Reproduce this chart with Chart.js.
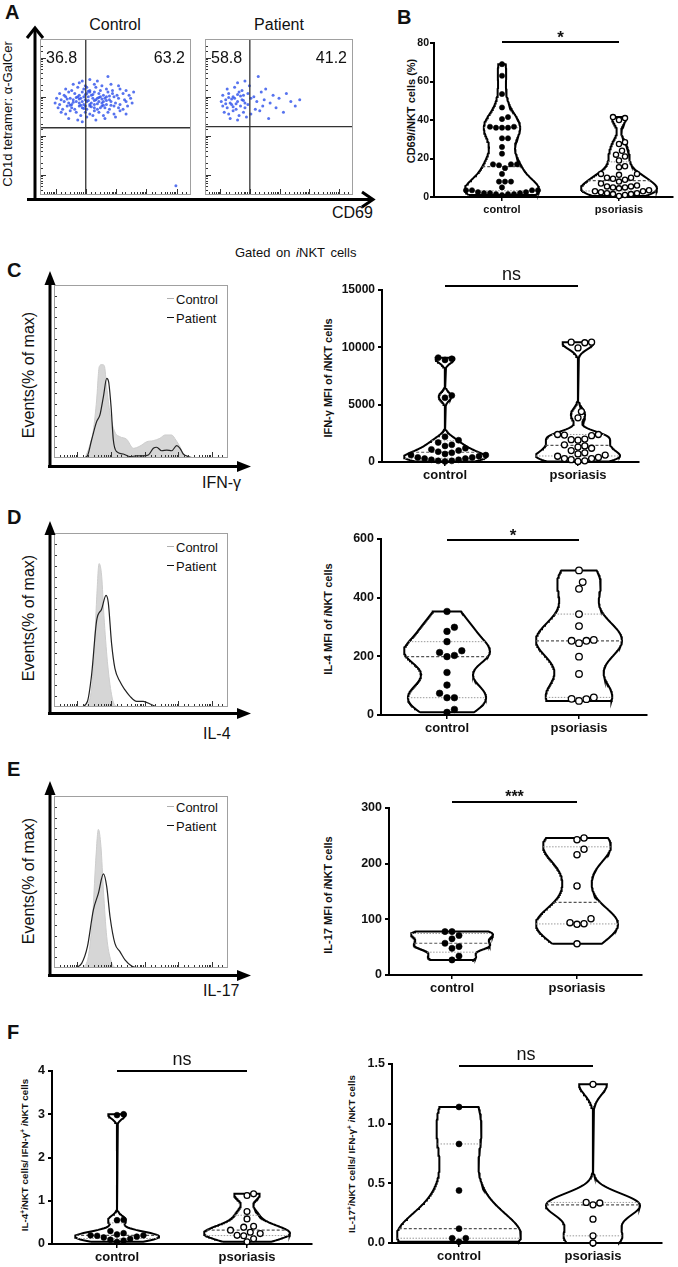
<!DOCTYPE html>
<html><head><meta charset="utf-8">
<script src="https://cdn.jsdelivr.net/npm/chart.js@4.4.1/dist/chart.umd.min.js"></script>
<style>
html,body{margin:0;padding:0;background:#fff;}
#fig{position:relative;width:678px;height:1267px;overflow:hidden;background:#fff;font-family:"Liberation Sans",Arial,Helvetica,sans-serif;color:#111;}
#fig canvas{position:absolute;}
.t{position:absolute;white-space:nowrap;line-height:1;}
.lt{font-weight:bold;font-size:20px;}
.r{transform:translate(-50%,-50%) rotate(-90deg);}
.c{transform:translateX(-50%);}
.vt{font-weight:bold;font-size:11px;}
.dash{position:absolute;width:7px;height:0;}
sup{font-size:65%;vertical-align:0.45em;line-height:0;}
svg{position:absolute;left:0;top:0;}
</style></head>
<body><div id="fig">
<div class="t lt" style="left:5px;top:2px">A</div>
<div class="t lt" style="left:397px;top:7px">B</div>
<div class="t lt" style="left:7px;top:260px">C</div>
<div class="t lt" style="left:7px;top:507px">D</div>
<div class="t lt" style="left:7px;top:759px">E</div>
<div class="t lt" style="left:7px;top:1022px">F</div>

<div class="t c" style="left:115px;top:17px;font-size:16px">Control</div>
<div class="t c" style="left:279px;top:17px;font-size:16px">Patient</div>
<div class="t r" style="left:7px;top:114px;font-size:13px">CD1d tetramer: α-GalCer</div>
<div class="t" style="left:332px;top:205px;font-size:16px">CD69</div>
<div class="t" style="left:235px;top:246px;font-size:13px;word-spacing:2px">Gated on <i>i</i>NKT cells</div>

<div class="t r" style="left:29px;top:375px;font-size:16px">Events(% of max)</div>
<div class="t" style="left:202px;top:475px;font-size:16px">IFN-γ</div>
<div class="dash" style="left:167px;top:298px;border-top:1.6px solid #b0b0b0"></div>
<div class="t" style="left:176px;top:292.5px;font-size:13px">Control</div>
<div class="dash" style="left:167px;top:317px;border-top:1.6px solid #111"></div>
<div class="t" style="left:176px;top:311.5px;font-size:13px">Patient</div>

<div class="t r" style="left:29px;top:618px;font-size:16px">Events(% of max)</div>
<div class="t" style="left:203px;top:726px;font-size:16px">IL-4</div>
<div class="dash" style="left:167px;top:546px;border-top:1.6px solid #b0b0b0"></div>
<div class="t" style="left:176px;top:540.5px;font-size:13px">Control</div>
<div class="dash" style="left:167px;top:565px;border-top:1.6px solid #111"></div>
<div class="t" style="left:176px;top:559.5px;font-size:13px">Patient</div>

<div class="t r" style="left:29px;top:881px;font-size:16px">Events(% of max)</div>
<div class="t" style="left:203px;top:983px;font-size:16px">IL-17</div>
<div class="dash" style="left:167px;top:806px;border-top:1.6px solid #b0b0b0"></div>
<div class="t" style="left:176px;top:800.5px;font-size:13px">Control</div>
<div class="dash" style="left:167px;top:825px;border-top:1.6px solid #111"></div>
<div class="t" style="left:176px;top:819.5px;font-size:13px">Patient</div>

<div class="t r vt" style="left:411px;top:111px">CD69/<i>i</i>NKT cells (%)</div>
<div class="t r vt" style="left:328px;top:378px">IFN-γ MFI of <i>i</i>NKT cells</div>
<div class="t r vt" style="left:328px;top:619px">IL-4 MFI of <i>i</i>NKT cells</div>
<div class="t r vt" style="left:328px;top:895px">IL-17 MFI of <i>i</i>NKT cells</div>
<div class="t r vt" style="left:25px;top:1155px;font-size:9.8px">IL-4<sup>+</sup><i>i</i>NKT cells/ IFN-γ<sup>+</sup> <i>i</i>NKT cells</div>
<div class="t r vt" style="left:352px;top:1154px;font-size:9.8px">IL-17<sup>+</sup><i>i</i>NKT cells/ IFN-γ<sup>+</sup> <i>i</i>NKT cells</div>

<svg width="678" height="1267" viewBox="0 0 678 1267">
 <g stroke="#000" fill="none" stroke-width="3">
  <line x1="35" y1="201" x2="35" y2="29"/>
  <polyline points="27,38 35,28 43,38"/>
  <line x1="27" y1="199.5" x2="372" y2="199.5"/>
  <polyline points="362,192 373,199.5 362,207"/>
  <line x1="50" y1="468" x2="50" y2="282"/>
  <line x1="48" y1="466.5" x2="240" y2="466.5"/>
  <line x1="50" y1="715" x2="50" y2="532"/>
  <line x1="48" y1="713.5" x2="240" y2="713.5"/>
  <line x1="50" y1="977" x2="50" y2="792"/>
  <line x1="48" y1="975.5" x2="240" y2="975.5"/>
 </g>
 <g fill="#000">
  <polygon points="50,271 44.5,285 55.5,285"/>
  <polygon points="251,466.5 237,461 237,472"/>
  <polygon points="50,521 44.5,535 55.5,535"/>
  <polygon points="251,713.5 237,708 237,719"/>
  <polygon points="50,781 44.5,795 55.5,795"/>
  <polygon points="251,975.5 237,970 237,981"/>
 </g>
</svg>
</div>
<script>
// ================= DATA =================
const groupLabels = ['control', 'psoriasis'];

// Panel A: flow dot plots (events in % of plot width / height)
const aControlQuad = ['36.8', '63.2'];
const aPatientQuad = ['58.8', '41.2'];
const aControlGate = [30.3, 43.1];
const aPatientGate = [30.3, 43.8];
const aControlEvents = [
 [33,74],[45,76],[38,73],[28,73],
 [22,71],[30,70],[36,71],[41,70],[47,71],[26,72],[52,70],
 [17,68],[21,67],[25,69],[29,68],[33,67],[37,69],[40,67],[44,68],[48,67],[53,68],[57,67],[31,69],
 [13,65],[16,64],[19,66],[23,65],[26,64],[28,66],[31,65],[34,64],[36,66],[39,65],[42,64],[45,66],[48,65],[51,64],[55,65],[59,64],[62,66],[33,66],
 [11,62],[14,61],[17,63],[20,62],[22,61],[25,63],[27,62],[30,61],[32,63],[35,62],[37,61],[40,63],[43,62],[46,61],[49,63],[52,62],[56,61],[60,62],[29,63],[38,62],[44,63],
 [10,59],[13,58],[16,60],[19,59],[21,58],[24,60],[26,59],[29,58],[31,60],[34,59],[36,58],[39,60],[41,59],[44,58],[47,60],[50,59],[53,58],[57,60],[61,59],[28,60],[33,58],[42,60],
 [12,56],[15,55],[18,57],[21,56],[23,55],[26,57],[28,56],[31,55],[33,57],[36,56],[38,55],[41,57],[43,56],[46,55],[49,57],[52,56],[55,55],[58,57],[30,57],[40,56],
 [14,53],[17,52],[20,54],[24,53],[27,51],[30,53],[33,52],[36,54],[39,53],[42,51],[45,53],[49,52],[53,54],[57,52],[35,51],
 [19,49],[25,48],[31,50],[37,48],[43,49],[50,50],[28,47],
 [24,62.5],[27,57.5],[32,60.5],[35,64.5],[38,58.5],[41,61.5],[44,60.5],[46,63.5],[30,64.5],[22,59.5],[18,61.5],[34,56.5],[39,62.5],[42,57.5],[26,61.5],[36,60.5],[29,55.5],[32,66.5],[47,57.5],[20,57.5],
 [90,6]
];
const aPatientEvents = [
 [36,76],[22,72],[27,73],
 [15,68],[20,69],[25,67],[30,70],[41,68],
 [12,64],[16,65],[19,63],[23,66],[26,64],[29,65],[33,63],[38,66],[46,64],[55,65],
 [11,60],[14,61],[17,59],[20,62],[22,60],[25,61],[27,59],[31,62],[35,60],[40,61],[44,59],[50,62],[58,60],[64,61],
 [12,57],[15,56],[18,58],[21,55],[24,57],[27,56],[29,58],[34,55],[39,57],[48,56],[61,57],
 [13,53],[16,52],[19,54],[23,51],[26,53],[31,52],[37,54],[53,53],
 [17,49],[22,48],[28,50],[43,49],
 [18,61.5],[21,58.5],[24,63.5],[14,58.5],[19,56.5],[26,60.5],[16,62.5],[22,64.5]
];

// Panel B: CD69 / iNKT (%)
const bTicks = [0, 20, 40, 60, 80];
const bControl = [69,63,53.5,46.5,41.5,40.5,36.5,36.5,36,36,36,30.5,30.5,26,22.5,17,17,17,16.5,15,12,8,8,8,5,3.5,3.5,3.5,3.5,2.5,2,2,1.5,1.5,1.5,2.5,2,1];
const bPsoriasis = [41.5,41,40,28.5,27.5,24,22,21,19,16,15.5,12,12,11.5,10,10,9.5,9,8,7,6,5.5,5.5,5,5,4.5,3.5,3,3,2.5,2,2,1.5,1.5,1,0.5];
const bSig = '*';

// Panel C: IFN-γ
const cHistControl = [[17.8,0],[20.3,6.5],[22.6,16],[24.5,33.5],[26,52.8],[27.5,54],[28.9,53.4],[30.3,41],[32.2,25.8],[35,15],[37.9,12.3],[41.8,10.8],[45.6,5.6],[49.4,6.9],[53.3,9.4],[57,10],[60.9,11.4],[63.8,13.3],[67.6,13.3],[70,10.4],[72.4,6.5],[74.7,1.2],[76,0]];
const cHistPatient = [[16.9,0],[19.2,1.2],[21.6,10.4],[24.5,21],[26.4,24.9],[28.4,35.5],[30.3,46],[31.4,44],[32.8,29.7],[34.1,10.4],[36,3.7],[39.8,2.3],[43.7,0.8],[47.5,1.2],[51.3,1.2],[54.2,1.7],[57.1,5.6],[59,6.2],[61.9,4.2],[64.8,4.6],[67.6,4.2],[70.5,7.1],[72.4,5.6],[74.3,2.3],[77.2,0.8],[80,0]];
const cTicks = [0, 5000, 10000, 15000];
const cControl = [9100,9000,8900,5800,5600,2200,1900,1700,1500,1400,1200,1100,1000,900,800,700,600,600,500,400,400,300,300,200,200,100,100,50];
const cPsoriasis = [10450,10450,10400,9950,4400,3850,2400,2400,2350,2300,2000,1950,1900,1500,1400,1300,1200,1000,800,700,600,500,400,300,300,200,100,50];
const cSig = 'ns';

// Panel D: IL-4
const dHistControl = [[19.2,0],[21.6,10.8],[23.2,33.5],[24.5,62],[25.9,82.4],[27.4,75.2],[28.7,52.5],[30.7,26],[33.1,7],[35,1],[37.9,0]];
const dHistPatient = [[15.9,0],[19.2,3.2],[21.6,18.4],[24.5,49.6],[27.4,56.3],[29.9,64.2],[31.2,60],[33.1,36.4],[35,22.2],[37.9,14.6],[40.8,9.8],[43.7,6.1],[47.5,3.2],[51.3,3.2],[55.2,1.7],[59,0]];
const dTicks = [0, 200, 400, 600];
const dControl = [353,299,285,250,213,203,219,199,145,102,74,59,59,19,9];
const dPsoriasis = [493,453,430,344,303,256,253,253,245,199,140,60,55,54,48];
const dSig = '*';

// Panel E: IL-17
const eHistControl = [[16.9,0],[19.7,6.6],[22.2,29.8],[23.9,60.9],[25.5,80.6],[27,70.5],[28.4,45.3],[30.3,18.2],[32.6,4.7],[35,0.4],[37,0]];
const eHistPatient = [[12.1,0],[15.9,2.7],[19.2,12.4],[22.6,33.7],[25.5,43.4],[28.4,54.7],[30.3,47.3],[32.2,29.8],[35,14.3],[37.9,9.5],[40.8,4.7],[44.6,1.2],[49.4,0]];
const eTicks = [0, 100, 200, 300];
const eControl = [78,78,71,65,57,51,48,34,27];
const ePsoriasis = [246,243,226,216,160,101,94,92,91,56];
const eSig = '***';

// Panel F: ratios
const fLTicks = [0, 1, 2, 3, 4];
const fLControl = [3.0,2.98,0.56,0.55,0.3,0.25,0.22,0.2,0.2,0.19,0.17,0.15,0.12,0.1,0.08,0.05];
const fLPsoriasis = [1.16,1.12,0.75,0.58,0.41,0.39,0.32,0.27,0.24,0.2,0.19,0.12,0.05];
const fLSig = 'ns';
const fRTicks = [0, 0.5, 1.0, 1.5];
const fRControl = [1.14,0.83,0.44,0.12,0.04,0.04,0.01];
const fRPsoriasis = [1.33,0.34,0.335,0.32,0.2,0.06,0.0];
const fRSig = 'ns';

// ================= SETUP =================
const FONT = '"Liberation Sans", Arial, Helvetica, sans-serif';
const BW = 0.7; // violin smoothing factor (relative to Silverman's rule)
Chart.defaults.font.family = FONT;
Chart.defaults.animation = false;
Chart.defaults.responsive = false;
Chart.defaults.events = [];
Chart.defaults.plugins.legend.display = false;
Chart.defaults.plugins.tooltip.enabled = false;

const fig = document.getElementById('fig');
function makeCanvas(x, y, w, h) {
  const c = document.createElement('canvas');
  c.width = w; c.height = h;
  c.style.left = x + 'px'; c.style.top = y + 'px';
  c.style.width = w + 'px'; c.style.height = h + 'px';
  fig.insertBefore(c, fig.querySelector('svg'));
  return c;
}

// box + flow-style minor ticks
const boxPlugin = {
  id: 'box',
  afterDatasetsDraw(chart, args, opts) {
    const {ctx, chartArea: a} = chart;
    ctx.save();
    ctx.strokeStyle = '#a0a0a0'; ctx.lineWidth = 1;
    ctx.strokeRect(a.left + 0.5, a.top + 0.5, a.right - a.left - 1, a.bottom - a.top - 1);
    ctx.strokeStyle = '#333';
    const xs = chart.scales[opts.xs];
    if (xs) xs.ticks.forEach(t => {
      const px = Math.round(xs.getPixelForValue(t.value)) + 0.5;
      if (px < a.left + 3 || px > a.right - 3) return;
      const lg = Math.log10(t.value); const major = Math.abs(lg - Math.round(lg)) < 1e-6;
      ctx.beginPath(); ctx.moveTo(px, a.bottom - 1); ctx.lineTo(px, a.bottom - (major ? 6 : 3)); ctx.stroke();
    });
    const ys = chart.scales[opts.ys];
    if (ys) ys.ticks.forEach(t => {
      const py = Math.round(ys.getPixelForValue(t.value)) + 0.5;
      if (py < a.top + 3 || py > a.bottom - 3) return;
      let major = false;
      if (ys.type === 'logarithmic') { const lg = Math.log10(t.value); major = Math.abs(lg - Math.round(lg)) < 1e-6; }
      ctx.beginPath(); ctx.moveTo(a.left + 1, py); ctx.lineTo(a.left + (major ? 6 : 3), py); ctx.stroke();
    });
    ctx.restore();
  }
};

function dotChart(area, events, gate, quad) {
  const P = 2; const [L, T, R, B] = area;
  const cv = makeCanvas(L - P, T - P, R - L + 2 * P, B - T + 2 * P);
  const quadPlugin = {
    id: 'quad',
    afterDraw(chart) {
      const {ctx, chartArea: a} = chart;
      ctx.save(); ctx.fillStyle = '#111'; ctx.font = '16px ' + FONT; ctx.textBaseline = 'alphabetic';
      ctx.textAlign = 'left'; ctx.fillText(quad[0], a.left + 6, a.top + 24);
      ctx.textAlign = 'right'; ctx.fillText(quad[1], a.right - 6, a.top + 24);
      ctx.restore();
    }
  };
  new Chart(cv, {
    type: 'scatter',
    data: {datasets: [
      {data: events.map(([x, y]) => ({x, y})), xAxisID: 'x', yAxisID: 'y', pointRadius: 1.5, pointBackgroundColor: 'rgba(45,80,235,0.8)', pointBorderWidth: 0, order: 1},
      {data: [{x: gate[0], y: 0}, {x: gate[0], y: 100}], xAxisID: 'x', yAxisID: 'y', showLine: true, borderColor: '#333', borderWidth: 1.3, pointRadius: 0, order: 0},
      {data: [{x: 0, y: gate[1]}, {x: 100, y: gate[1]}], xAxisID: 'x', yAxisID: 'y', showLine: true, borderColor: '#333', borderWidth: 1.3, pointRadius: 0, order: 0}
    ]},
    options: {
      devicePixelRatio: 1,
      layout: {padding: P},
      scales: {
        x: {type: 'linear', min: 0, max: 100, display: false},
        y: {type: 'linear', min: 0, max: 100, display: false},
        xl: {type: 'logarithmic', axis: 'x', position: 'bottom', min: 3, max: 300000, display: false, ticks: {autoSkip: false}},
        yl: {type: 'logarithmic', axis: 'y', position: 'left', min: 3, max: 30000, display: false, ticks: {autoSkip: false}}
      },
      plugins: {box: {xs: 'xl', ys: 'yl'}}
    },
    plugins: [boxPlugin, quadPlugin]
  });
}

function histChart(area, control, patient) {
  const P = 2; const [L, T, R, B] = area;
  const cv = makeCanvas(L - P, T - P, R - L + 2 * P, B - T + 2 * P);
  new Chart(cv, {
    type: 'line',
    data: {datasets: [
      {data: patient.map(([x, y]) => ({x, y})), xAxisID: 'x', yAxisID: 'y', borderColor: '#222', borderWidth: 1.2, pointRadius: 0, fill: false, cubicInterpolationMode: 'monotone', order: 0},
      {data: control.map(([x, y]) => ({x, y})), xAxisID: 'x', yAxisID: 'y', borderColor: '#cdcdcd', backgroundColor: '#d6d6d6', borderWidth: 1, pointRadius: 0, fill: 'origin', cubicInterpolationMode: 'monotone', order: 1}
    ]},
    options: {
      devicePixelRatio: 1,
      layout: {padding: P},
      scales: {
        x: {type: 'linear', min: 0, max: 100, display: false},
        y: {type: 'linear', min: 0, max: 100, display: false, ticks: {stepSize: 6.25, autoSkip: false}},
        xl: {type: 'logarithmic', axis: 'x', position: 'bottom', min: 2, max: 300000, display: false, ticks: {autoSkip: false}}
      },
      plugins: {box: {xs: 'xl', ys: 'y'}}
    },
    plugins: [boxPlugin]
  });
}

function quant(s, p) {
  const n = s.length; let pos = p * (n + 1) - 1;
  pos = Math.max(0, Math.min(n - 1, pos));
  const lo = Math.floor(pos), hi = Math.ceil(pos);
  return s[lo] + (s[hi] - s[lo]) * (pos - lo);
}
function kde(vals) {
  const s = [...vals].sort((a, b) => a - b), n = s.length;
  const mean = s.reduce((a, b) => a + b, 0) / n;
  const sd = Math.sqrt(s.reduce((a, b) => a + (b - mean) ** 2, 0) / (n - 1));
  const iqr = quant(s, 0.75) - quant(s, 0.25);
  let spread = Math.min(sd, iqr / 1.34); if (!(spread > 0)) spread = sd;
  const h = BW * 0.9 * spread * Math.pow(n, -0.2);
  const f = y => s.reduce((a, v) => a + Math.exp(-0.5 * ((y - v) / h) ** 2), 0);
  const N = 160, ys = [], ds = [];
  for (let i = 0; i <= N; i++) { const y = s[0] + (s[n - 1] - s[0]) * i / N; ys.push(y); ds.push(f(y)); }
  const m = Math.max(...ds);
  return {s, ys, ws: ds.map(d => d / m), at: y => f(y) / m};
}
function swarm(vals, pxY, r) {
  const d = 2 * r + 0.8, placed = [], out = [];
  const idx = vals.map((v, i) => i).sort((a, b) => vals[a] - vals[b]);
  for (const i of idx) {
    const y = vals[i] * pxY;
    for (let k = 0; k < 400; k++) {
      const off = k === 0 ? 0 : (k % 2 ? 1 : -1) * Math.ceil(k / 2) * d / 2;
      if (placed.every(p => Math.hypot(p[0] - off, p[1] - y) >= d)) { placed.push([off, y]); out[i] = off; break; }
    }
  }
  return out;
}

function violinChart(o) {
  const ML = 50, MT = 36, MR = 8, MB = 30;
  const [L, T, R, B] = o.area;
  const cv = makeCanvas(L - ML, T - MT, R - L + ML + MR, B - T + MT + MB);
  const unit = o.centers[1] - o.centers[0];
  const yMin = o.ticks[0], yMax = o.ticks[o.ticks.length - 1];
  const pxY = (B - T) / (yMax - yMin);
  const datasets = [];
  o.groups.forEach((vals, g) => {
    const k = kde(vals), hw = o.halfW[g] / unit;
    const left = k.ys.map((y, i) => ({x: g - k.ws[i] * hw, y}));
    const right = k.ys.map((y, i) => ({x: g + k.ws[i] * hw, y})).reverse();
    datasets.push({data: [...left, ...right, left[0]], showLine: true, borderColor: '#000', borderWidth: 2, pointRadius: 0, tension: 0, order: 3, clip: false});
    [0.25, 0.5, 0.75].forEach(p => {
      const yv = quant(k.s, p), w = k.at(yv) * hw, med = p === 0.5;
      datasets.push({data: [{x: g - w, y: yv}, {x: g + w, y: yv}], showLine: true, borderColor: med ? '#555' : '#9a9a9a', borderWidth: med ? 1.2 : 1, borderDash: med ? [3, 2] : [1.5, 1.5], pointRadius: 0, order: 2});
    });
    const offs = swarm(vals, pxY, o.r);
    datasets.push({data: vals.map((v, i) => ({x: g + offs[i] / unit, y: v})), pointRadius: o.r, pointBackgroundColor: g === 0 ? '#000' : '#fff', pointBorderColor: '#000', pointBorderWidth: g === 0 ? 0.6 : 1.3, order: 0, clip: false});
  });
  datasets.push({data: [{x: 0, y: o.sigY}, {x: 1, y: o.sigY}], showLine: true, borderColor: '#000', borderWidth: 2, pointRadius: 0, order: 1, clip: false});
  const sigPlugin = {
    id: 'sig',
    afterDraw(chart) {
      const {ctx} = chart; const xs = chart.scales.x, ys = chart.scales.y;
      ctx.save(); ctx.fillStyle = '#111'; ctx.font = o.sigFont; ctx.textAlign = 'center'; ctx.textBaseline = 'alphabetic';
      ctx.fillText(o.sig, xs.getPixelForValue(0.5), ys.getPixelForValue(o.sigY) - o.sigGap);
      ctx.restore();
    }
  };
  new Chart(cv, {
    type: 'scatter',
    data: {datasets},
    options: {
      devicePixelRatio: 1,
      layout: {padding: {left: 0, top: MT, right: MR, bottom: 0}},
      scales: {
        x: {type: 'linear', min: (L - o.centers[0]) / unit, max: (R - o.centers[0]) / unit,
            afterBuildTicks: s => { s.ticks = [{value: 0}, {value: 1}]; },
            afterFit: s => { s.height = MB; },
            ticks: {callback: v => groupLabels[v], font: {size: o.catSize, weight: 'bold'}, color: '#111', padding: 2, maxRotation: 0, autoSkip: false},
            grid: {drawOnChartArea: false, tickLength: 4, lineWidth: 1.5, color: '#000'},
            border: {color: '#000', width: 2}},
        y: {type: 'linear', min: yMin, max: yMax,
            afterBuildTicks: s => { s.ticks = o.ticks.map(v => ({value: v})); },
            afterFit: s => { s.width = ML; },
            ticks: {callback: v => o.fmt ? o.fmt(v) : String(v), font: {size: o.tickSize, weight: 'bold'}, color: '#111', padding: o.tickPad || 3},
            grid: {drawOnChartArea: false, tickLength: 4, lineWidth: 2, color: '#000'},
            border: {color: '#000', width: 2}}
      }
    },
    plugins: [sigPlugin]
  });
}

// ================= DRAW =================
dotChart([38, 37, 193, 197], aControlEvents, aControlGate, aControlQuad);
dotChart([203, 37, 355, 197], aPatientEvents, aPatientGate, aPatientQuad);

histChart([54, 285, 228, 458], cHistControl, cHistPatient);
histChart([54, 533, 228, 707], dHistControl, dHistPatient);
histChart([54, 796, 228, 968], eHistControl, eHistPatient);

violinChart({area: [434, 43, 673, 197], centers: [502, 619], ticks: bTicks, groups: [bControl, bPsoriasis], halfW: [37, 38], r: 2.6,
  sig: bSig, sigY: 80.5, sigFont: 'bold 17px ' + FONT, sigGap: -1, tickSize: 10.5, tickPad: 1, catSize: 11});
violinChart({area: [382, 290, 639, 462], centers: [445, 578], ticks: cTicks, groups: [cControl, cPsoriasis], halfW: [41, 42], r: 3,
  sig: cSig, sigY: 15350, sigFont: '18px ' + FONT, sigGap: 5.5, tickSize: 12, catSize: 13});
violinChart({area: [381, 539, 647, 715], centers: [447, 579], ticks: dTicks, groups: [dControl, dPsoriasis], halfW: [43, 43], r: 3.3,
  sig: dSig, sigY: 597, sigFont: 'bold 17px ' + FONT, sigGap: -1, tickSize: 12.5, catSize: 13});
violinChart({area: [389, 808, 642, 975], centers: [452, 577], ticks: eTicks, groups: [eControl, ePsoriasis], halfW: [41, 41], r: 3.1,
  sig: eSig, sigY: 311, sigFont: 'bold 16px ' + FONT, sigGap: 0, tickSize: 12.5, catSize: 13});
violinChart({area: [52, 1071, 312, 1244], centers: [117, 247], ticks: fLTicks, groups: [fLControl, fLPsoriasis], halfW: [42, 43], r: 2.9,
  sig: fLSig, sigY: 4, sigFont: '18px ' + FONT, sigGap: 6, tickSize: 12.5, catSize: 13});
violinChart({area: [392, 1064, 662, 1243], centers: [459, 593], ticks: fRTicks, groups: [fRControl, fRPsoriasis], halfW: [62, 47], r: 3,
  sig: fRSig, sigY: 1.483, sigFont: '18px ' + FONT, sigGap: 6, tickSize: 12.5, catSize: 13, fmt: v => v.toFixed(1)});
</script>
</body></html>
